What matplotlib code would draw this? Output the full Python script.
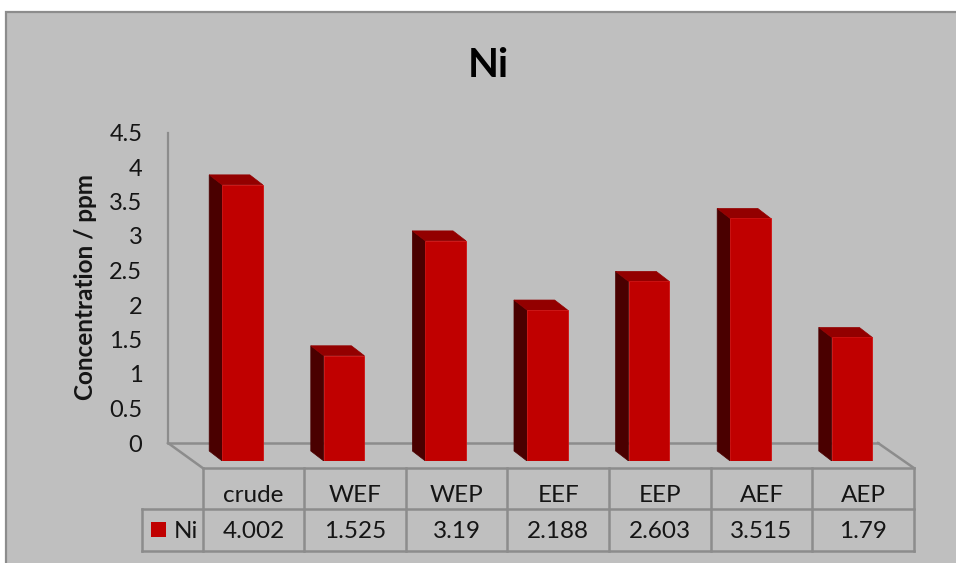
import matplotlib
matplotlib.use("Agg")
import matplotlib.pyplot as plt
from matplotlib.patches import Polygon, Rectangle
from matplotlib.lines import Line2D
from matplotlib.transforms import IdentityTransform

# ---- data -------------------------------------------------------------
categories = ["crude", "WEF", "WEP", "EEF", "EEP", "AEF", "AEP"]
ni_values = [4.002, 1.525, 3.19, 2.188, 2.603, 3.515, 1.79]
value_labels = ["4.002", "1.525", "3.19", "2.188", "2.603", "3.515", "1.79"]
series_name = "Ni"
y_ticks = [0, 0.5, 1, 1.5, 2, 2.5, 3, 3.5, 4, 4.5]
y_tick_labels = ["0", "0.5", "1", "1.5", "2", "2.5", "3", "3.5", "4", "4.5"]

# ---- styling ----------------------------------------------------------
W, H = 956, 563
BG = "#bfbfbf"
EDGE = "#8c8c8c"
FRONT = "#c00000"
SIDE = "#4a0000"
TOP = "#930000"
TXT = "#151515"
FONT = "Lato"

plt.rcParams["font.family"] = [FONT, "DejaVu Sans"]

fig = plt.figure(figsize=(W / 100, H / 100), dpi=100)
fig.patch.set_facecolor("white")


def box(x0, y_top, w, h):
    """Pixel box (top-left origin) to figure fraction rect."""
    return [x0 / W, 1 - (y_top + h) / H, w / W, h / H]


# canvas in pixel coordinates for frame, floor and data table
canvas = fig.add_axes([0, 0, 1, 1])
canvas.set_xlim(0, W)
canvas.set_ylim(H, 0)
canvas.axis("off")
canvas.add_patch(Rectangle((6, 12), W + 20, H + 20, facecolor=BG,
                           edgecolor=EDGE, lw=1.6, clip_on=True))

# back wall with the value axis
PX_PER_UNIT = 69.0
wall_left, wall_right, wall_zero = 168, 878, 443
wall = fig.add_axes(box(wall_left, wall_zero - 4.5 * PX_PER_UNIT,
                        wall_right - wall_left, 4.5 * PX_PER_UNIT))
wall.set_ylim(0, 4.5)
wall.set_xlim(0, 1)
wall.patch.set_alpha(0)
for side in ("top", "right", "bottom"):
    wall.spines[side].set_visible(False)
wall.spines["left"].set_color(EDGE)
wall.spines["left"].set_linewidth(1.6)
wall.set_xticks([])
wall.set_yticks(y_ticks)
wall.set_yticklabels(y_tick_labels)
wall.tick_params(axis="y", length=0, pad=18.5, labelsize=17, labelcolor=TXT)

# bar plane: category index / value -> front face of each bar
bar_zero = 461
spacing = 101.6
first_center = 242.5
ax = fig.add_axes(box(first_center - 0.5 * spacing, bar_zero - 4.5 * PX_PER_UNIT,
                      7 * spacing, 4.5 * PX_PER_UNIT))
ax.set_xlim(-0.5, 6.5)
ax.set_ylim(0, 4.5)
ax.axis("off")
ax.patch.set_alpha(0)

xs = list(range(len(categories)))
bar_w = 0.40
ax.bar(xs, ni_values, width=bar_w, color=FRONT, edgecolor="#d01010",
       linewidth=0.6, zorder=3)

# depth of each bar in display pixels (x left, y up)
DX, DY = -13, 10
for x, v in zip(xs, ni_values):
    (lx, by), (rx, ty) = ax.transData.transform([(x - bar_w / 2, 0), (x + bar_w / 2, v)])
    side = [(lx, by), (lx, ty), (lx + DX, ty + DY), (lx + DX, by + DY)]
    top = [(lx, ty), (rx, ty), (rx + DX, ty + DY), (lx + DX, ty + DY)]
    ax.add_patch(Polygon(side, closed=True, transform=IdentityTransform(),
                         facecolor=SIDE, edgecolor=SIDE, lw=0.5, zorder=2))
    ax.add_patch(Polygon(top, closed=True, transform=IdentityTransform(),
                         facecolor=TOP, edgecolor=TOP, lw=0.5, zorder=2))

# floor outline and data table (pixel coordinates on the canvas)
FLOOR_DX, FLOOR_DY = 11, 7           # floor front edge relative to bar plane
edges = []
for k in range(len(categories) + 1):
    ex, _ = ax.transData.transform((k - 0.5, 0))
    edges.append(ex + FLOOR_DX)
front_y = bar_zero + FLOOR_DY
row1_y = front_y + 41
row2_y = row1_y + 42
key_left = 142

line_kw = dict(color=EDGE, lw=1.8, solid_capstyle="projecting", zorder=1)
canvas.add_line(Line2D([wall_left, wall_right], [wall_zero, wall_zero], **line_kw))
canvas.add_line(Line2D([wall_left, edges[0]], [wall_zero, front_y], **line_kw))
canvas.add_line(Line2D([wall_right, edges[-1]], [wall_zero, front_y], **line_kw))
canvas.add_line(Line2D([edges[0], edges[-1]], [front_y, front_y], **line_kw))
canvas.add_line(Line2D([key_left, edges[-1]], [row1_y, row1_y], **line_kw))
canvas.add_line(Line2D([key_left, edges[-1]], [row2_y, row2_y], **line_kw))
canvas.add_line(Line2D([key_left, key_left], [row1_y, row2_y], **line_kw))
for ex in edges:
    canvas.add_line(Line2D([ex, ex], [front_y, row2_y], **line_kw))

for k, (cat, lab) in enumerate(zip(categories, value_labels)):
    cx = (edges[k] + edges[k + 1]) / 2
    canvas.text(cx, row1_y - 7, cat, ha="center", va="baseline",
                fontsize=17.5, color=TXT)
    canvas.text(cx, row2_y - 13, lab, ha="center", va="baseline",
                fontsize=17.5, color=TXT)

# legend key in the table
canvas.add_patch(Rectangle((151, 522), 15, 15, facecolor=FRONT, edgecolor="none"))
canvas.text(174, row2_y - 13, series_name, ha="left", va="baseline",
            fontsize=17.5, color=TXT)

# titles
canvas.text(488, 77, series_name, ha="center", va="baseline",
            fontsize=29, fontweight="bold", color="black")
canvas.text(86, 287, "Concentration / ppm", ha="center", va="center",
            rotation=90, fontsize=17.5, fontweight="bold", color=TXT)

fig.savefig("out.png", dpi=100, facecolor=fig.get_facecolor())
